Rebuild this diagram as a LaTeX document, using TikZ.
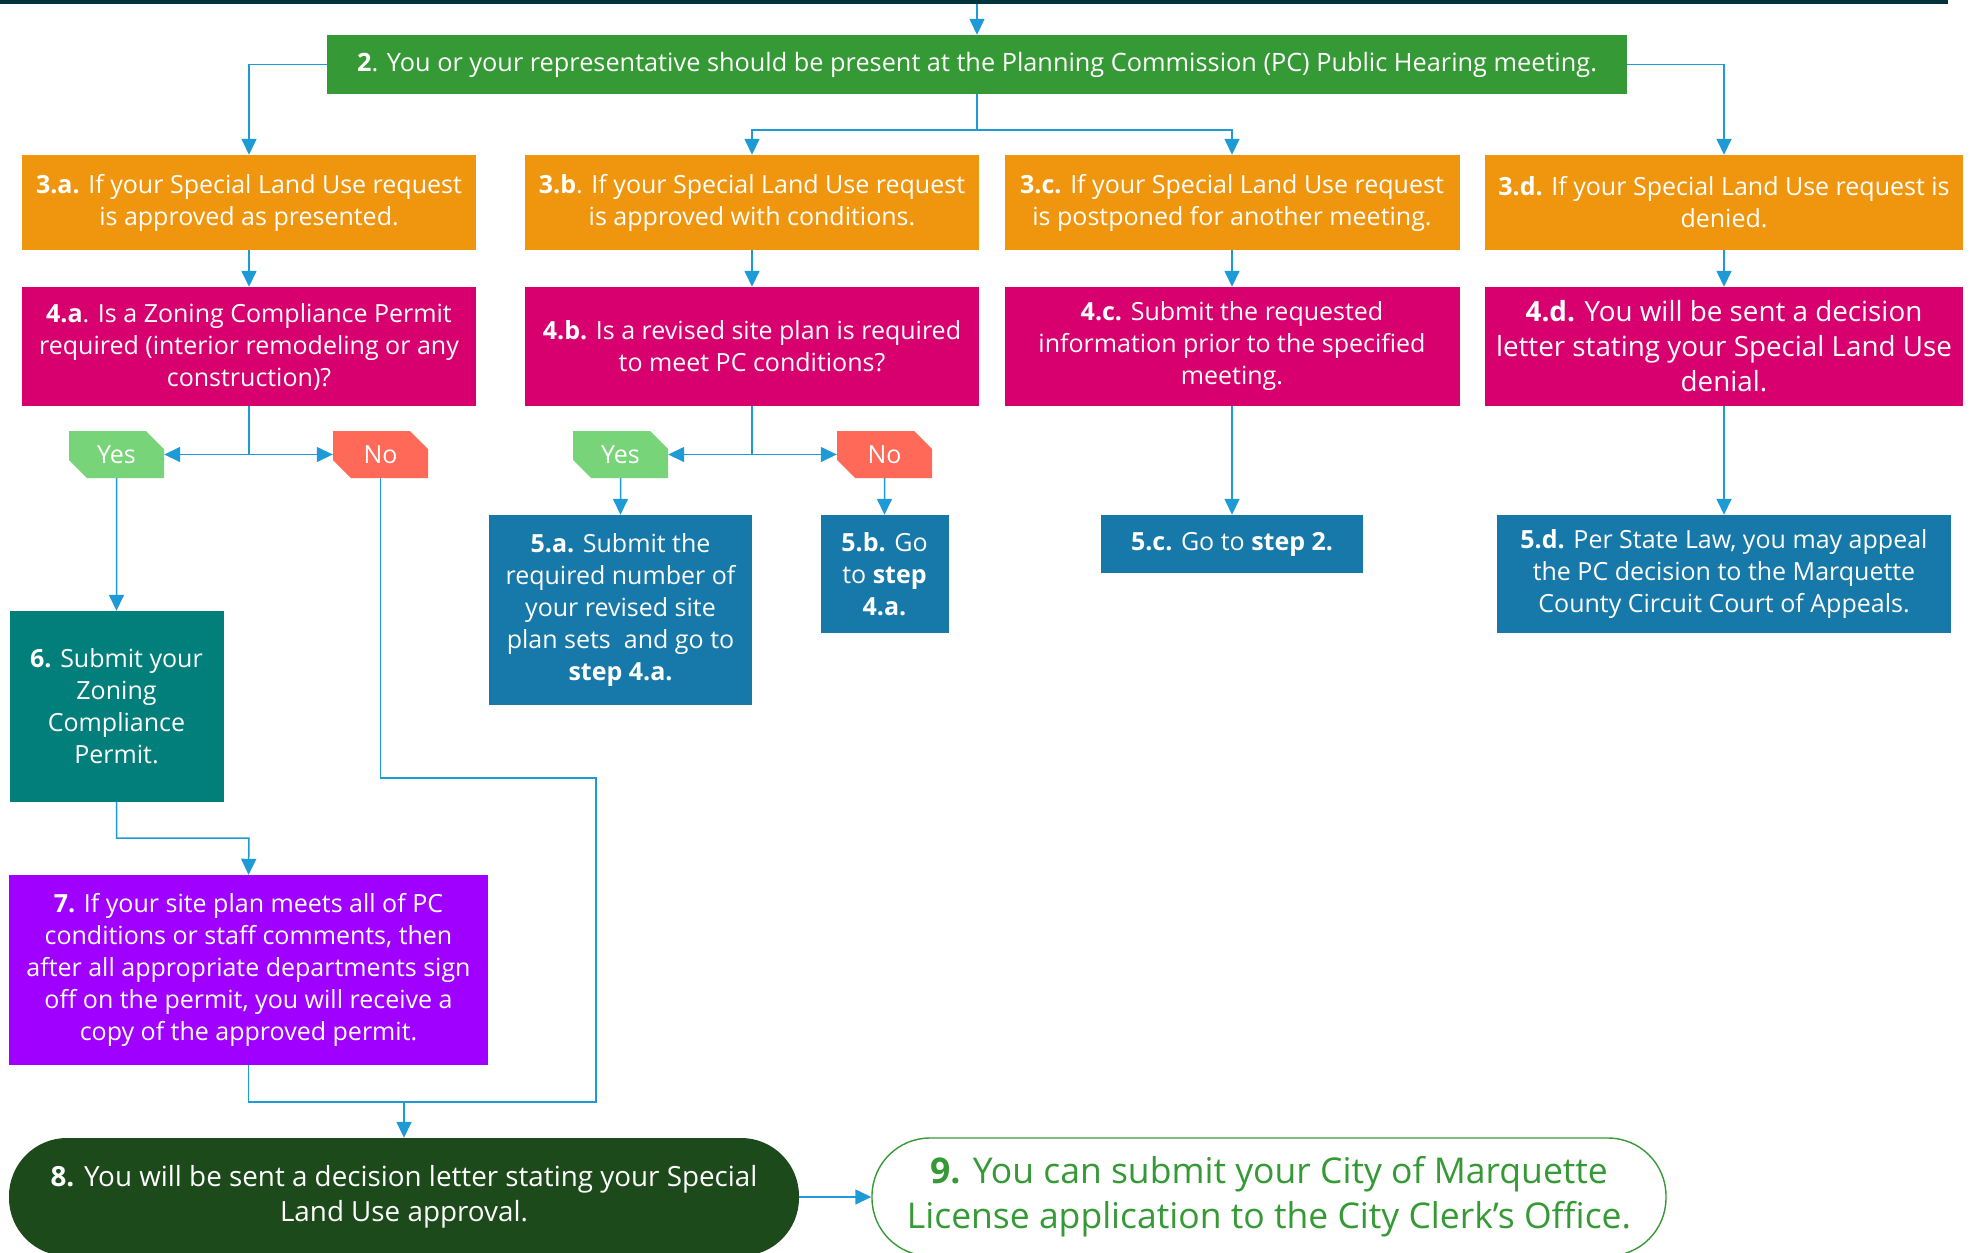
\documentclass[tikz,border=0pt]{standalone}
\usepackage{fontspec}
\setmainfont{Open Sans}
\usetikzlibrary{arrows.meta,shapes.misc}

\definecolor{barDark}{HTML}{00333A}
\definecolor{stepGreen}{HTML}{359A35}
\definecolor{stepOrange}{HTML}{F0960E}
\definecolor{stepMagenta}{HTML}{D7006E}
\definecolor{yesGreen}{HTML}{78D478}
\definecolor{noRed}{HTML}{FF6A58}
\definecolor{stepBlue}{HTML}{1779A9}
\definecolor{stepTeal}{HTML}{027F7A}
\definecolor{stepPurple}{HTML}{A000FF}
\definecolor{darkGreen}{HTML}{1D4A1A}
\definecolor{lineBlue}{HTML}{1E9BD7}

\newcommand{\stdfont}{\fontsize{25}{32}\selectfont}
\newcommand{\bigfont}{\fontsize{27.8}{35}\selectfont}
\newcommand{\hugefont}{\fontsize{35.5}{45}\selectfont}

\tikzset{
  box/.style={rectangle, inner sep=0pt, align=center, text=white, font=\stdfont},
  orangebox/.style={box, fill=stepOrange, minimum width=#1, minimum height=95pt},
  magentabox/.style={box, fill=stepMagenta, minimum width=#1, minimum height=119pt},
  bluebox/.style={box, fill=stepBlue},
  answer/.style={chamfered rectangle, chamfered rectangle corners={north east,south west},
    chamfered rectangle xsep=9pt, chamfered rectangle ysep=9pt, inner sep=0pt,
    minimum width=95pt, minimum height=47pt, text=white, font=\stdfont},
  arr/.style={draw=lineBlue, line width=1.5pt, -{Triangle[length=16pt,width=15pt]}},
  ln/.style={draw=lineBlue, line width=1.5pt},
}

\begin{document}
\begin{tikzpicture}[x=1pt,y=-1pt]
  \useasboundingbox (0,0) rectangle (1974,1253);
  \fill[barDark] (0,0) rectangle (1948,4);
  \coordinate (top) at (977,4);

  % step 2
  \node[box, fill=stepGreen, minimum width=1300pt, minimum height=59pt, font=\fontsize{25.3}{32}\selectfont]
    (n2) at (977,64.5) {\textbf{2}. You or your representative should be present at the Planning Commission (PC) Public Hearing meeting.};

  % step 3
  \node[orangebox=454pt] (n3a) at (249,202.5) {\textbf{3.a.} If your Special Land Use request\\is approved as presented.};
  \node[orangebox=454pt] (n3b) at (752,202.5) {\textbf{3.b}. If your Special Land Use request\\is approved with conditions.};
  \node[orangebox=455pt] (n3c) at (1232,202.5) {\textbf{3.c.} If your Special Land Use request\\is postponed for another meeting.};
  \node[orangebox=478pt] (n3d) at (1724,202.5) {\textbf{3.d.} If your Special Land Use request is\\denied.};

  % step 4
  \node[magentabox=454pt] (n4a) at (249,346.5) {\textbf{4.a}. Is a Zoning Compliance Permit\\required (interior remodeling or any\\construction)?};
  \node[magentabox=454pt] (n4b) at (752,346.5) {\textbf{4.b.} Is a revised site plan is required\\to meet PC conditions?};
  \node[magentabox=455pt] (n4c) at (1232,346.5) {\textbf{4.c.} Submit the requested\\information prior to the specified\\meeting.};
  \node[magentabox=478pt, font=\bigfont] (n4d) at (1724,346.5) {\textbf{4.d.} You will be sent a decision\\letter stating your Special Land Use\\denial.};

  % answers
  \node[answer, fill=yesGreen] (yesA) at (116.5,454.5) {Yes};
  \node[answer, fill=noRed] (noA) at (380.5,454.5) {No};
  \node[answer, fill=yesGreen] (yesB) at (620.5,454.5) {Yes};
  \node[answer, fill=noRed] (noB) at (884.5,454.5) {No};

  % step 5
  \node[bluebox, minimum width=263pt, minimum height=190pt] (n5a) at (620.5,610)
    {\textbf{5.a.} Submit the\\required number of\\your revised site\\plan sets\ \ and go to\\\textbf{step 4.a.}};
  \node[bluebox, minimum width=128pt, minimum height=118pt] (n5b) at (884.5,574)
    {\textbf{5.b.} Go\\to \textbf{step}\\\textbf{4.a.}};
  \node[bluebox, minimum width=262pt, minimum height=58pt] (n5c) at (1232,544)
    {\textbf{5.c.} Go to \textbf{step 2.}};
  \node[bluebox, minimum width=454pt, minimum height=118pt] (n5d) at (1724,574)
    {\textbf{5.d.} Per State Law, you may appeal\\the PC decision to the Marquette\\County Circuit Court of Appeals.};

  % steps 6 to 9
  \node[box, fill=stepTeal, minimum width=214pt, minimum height=191pt] (n6) at (116.5,706.5)
    {\textbf{6.} Submit your\\Zoning\\Compliance\\Permit.};
  \node[box, fill=stepPurple, minimum width=479pt, minimum height=190pt] (n7) at (248.5,970)
    {\textbf{7.} If your site plan meets all of PC\\conditions or staff comments, then\\after all appropriate departments sign\\off on the permit, you will receive a\\copy of the approved permit.};
  \node[box, fill=darkGreen, rounded corners=58pt, minimum width=790pt, minimum height=118pt, font=\bigfont] (n8) at (404,1197)
    {\textbf{8.} You will be sent a decision letter stating your Special\\Land Use approval.};
  \node[box, draw=stepGreen, line width=1.4pt, fill=white, text=stepGreen, rounded corners=58pt,
    minimum width=794pt, minimum height=118pt, font=\hugefont] (n9) at (1269,1197)
    {\textbf{9.} You can submit your City of Marquette\\License application to the City Clerk’s Office.};

  \coordinate (split2) at (977,130);
  \coordinate (bend6) at (249,838);
  \coordinate (bendNo) at (596,778);
  \coordinate (join8) at (404,1102);

  % connectors
  \draw[arr] (top) -- (n2.north);
  \draw[arr] (n2.west) -| (n3a.north);
  \draw[arr] (n2.east) -| (n3d.north);
  \draw[ln] (n2.south) -- (split2);
  \draw[arr] (split2) -| (n3b.north);
  \draw[arr] (split2) -| (n3c.north);
  \draw[arr] (n3a) -- (n4a);
  \draw[arr] (n3b) -- (n4b);
  \draw[arr] (n3c) -- (n4c);
  \draw[arr] (n3d) -- (n4d);
  \draw[arr] (n4a.south) |- (yesA.east);
  \draw[arr] (n4a.south) |- (noA.west);
  \draw[arr] (n4b.south) |- (yesB.east);
  \draw[arr] (n4b.south) |- (noB.west);
  \draw[arr] (yesB) -- (n5a);
  \draw[arr] (noB) -- (n5b);
  \draw[arr] (n4c) -- (n5c);
  \draw[arr] (n4d) -- (n5d);
  \draw[arr] (yesA) -- (n6);
  \draw[arr] (n6.south) |- (bend6) -- (n7.north);
  \draw[ln] (noA.south) |- (bendNo) |- (join8);
  \draw[ln] (n7.south) |- (join8);
  \draw[arr] (join8) -- (n8.north);
  \draw[arr] (n8.east) -- (n9.west);
\end{tikzpicture}
\end{document}
